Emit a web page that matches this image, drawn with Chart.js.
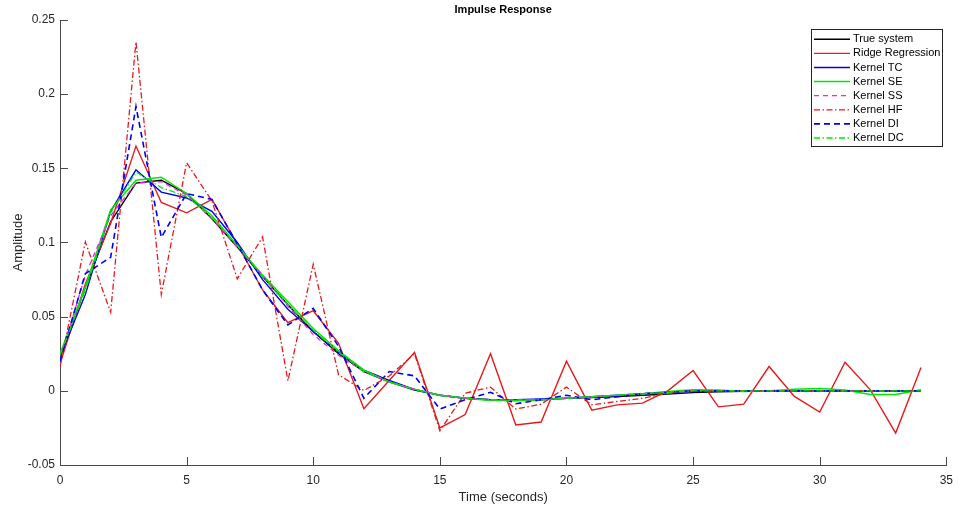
<!DOCTYPE html>
<html>
<head>
<meta charset="utf-8">
<script src="https://cdn.jsdelivr.net/npm/chart.js@4.4.0/dist/chart.umd.min.js"></script>
<style>
  html, body { margin: 0; padding: 0; background: #ffffff; }
  #wrap { width: 961px; height: 508px; }
</style>
</head>
<body>
<div id="wrap"><canvas id="c" width="961" height="508"></canvas></div>
<script>
const titleText = "Impulse Response";
const xLabel = "Time (seconds)";
const yLabel = "Amplitude";
const xTicks = [0, 5, 10, 15, 20, 25, 30, 35];
const yTicks = [-0.05, 0, 0.05, 0.1, 0.15, 0.2, 0.25];
const yTickLabels = ["-0.05", "0", "0.05", "0.1", "0.15", "0.2", "0.25"];

const times = [0,1,2,3,4,5,6,7,8,9,10,11,12,13,14,15,16,17,18,19,20,21,22,23,24,25,26,27,28,29,30,31,32,33,34];

const trueSystem = [0.022, 0.07, 0.114, 0.14, 0.142, 0.133, 0.116, 0.097, 0.077, 0.058, 0.04, 0.025, 0.013, 0.006, 0.0005, -0.003, -0.005, -0.006, -0.0065, -0.006, -0.005, -0.0045, -0.0038, -0.003, -0.0022, -0.0012, -0.0006, -0.0003, 0, 0, 0, 0, 0, 0, 0];
const ridgeRegression = [0.018, 0.072, 0.113, 0.165, 0.127, 0.12, 0.129, 0.099, 0.068, 0.046, 0.054, 0.032, -0.012, 0.007, 0.026, -0.025, -0.016, 0.025, -0.023, -0.021, 0.020, -0.013, -0.0095, -0.0083, 0.0, 0.0137, -0.0108, -0.009, 0.0164, -0.0038, -0.0143, 0.0193, 0.0007, -0.0285, 0.0157];
const kernelTC = [0.023, 0.065, 0.121, 0.149, 0.134, 0.130, 0.121, 0.100, 0.075, 0.055, 0.040, 0.026, 0.014, 0.007, 0.001, -0.003, -0.005, -0.006, -0.006, -0.0055, -0.005, -0.004, -0.003, -0.002, -0.001, -0.0005, 0, 0, 0, 0, 0, 0, 0, 0, 0];
const kernelSE = [0.025, 0.07, 0.122, 0.142, 0.144, 0.133, 0.118, 0.098, 0.078, 0.060, 0.042, 0.027, 0.014, 0.006, 0.001, -0.003, -0.005, -0.0065, -0.0065, -0.006, -0.005, -0.004, -0.003, -0.002, -0.0005, 0.0008, 0.0005, -0.0005, 0, 0.001, 0.0015, 0.0005, -0.0025, -0.0025, 0.0008];
const kernelSS = [0.021, 0.078, 0.118, 0.140, 0.141, 0.132, 0.116, 0.097, 0.078, 0.057, 0.038, 0.024, 0.013, 0.006, 0.001, -0.003, -0.005, -0.006, -0.006, -0.006, -0.005, -0.004, -0.003, -0.002, -0.001, 0, 0, 0, 0, 0, 0, 0, 0, 0, 0];
const kernelHF = [0.0163, 0.1004, 0.0529, 0.2354, 0.065, 0.1538, 0.128, 0.0755, 0.1038, 0.0067, 0.0854, 0.0108, 0.0002, 0.01, 0.025, -0.0269, -0.0016, 0.0025, -0.0123, -0.009, 0.0025, -0.0094, -0.0072, -0.005, -0.0015, 0, 0, 0, 0, 0, 0, 0, 0, 0, 0];
const kernelDI = [0.02, 0.079, 0.09, 0.1917, 0.1034, 0.133, 0.129, 0.099, 0.068, 0.0444, 0.0556, 0.03, -0.005, 0.013, 0.0101, -0.0123, -0.006, -0.001, -0.0087, -0.006, -0.003, -0.006, -0.004, -0.002, -0.001, 0, 0, 0, 0, 0, 0, 0, 0, 0, 0];
const kernelDC = [0.024, 0.068, 0.12, 0.1475, 0.137, 0.131, 0.117, 0.098, 0.077, 0.058, 0.041, 0.026, 0.013, 0.006, 0.001, -0.003, -0.005, -0.006, -0.0065, -0.006, -0.005, -0.004, -0.003, -0.002, -0.001, 0, 0, 0, 0, 0, 0, 0, 0, 0, 0];

const seriesNames = ["True system", "Ridge Regression", "Kernel TC", "Kernel SE", "Kernel SS", "Kernel HF", "Kernel DI", "Kernel DC"];
const seriesValues = [trueSystem, ridgeRegression, kernelTC, kernelSE, kernelSS, kernelHF, kernelDI, kernelDC];
const seriesColors = ["#000000", "#e8191c", "#0000f0", "#00e800", "#f020f0", "#e8191c", "#0000f0", "#00e800"];
const seriesDash = [[], [], [], [], [5, 4], [6, 2.5, 1.5, 2.5], [6, 4], [6, 2.5, 1.5, 2.5]];
const seriesWidth = [1.4, 1.4, 1.4, 1.5, 1.3, 1.3, 1.6, 1.3];

const FONT = "'Liberation Sans', Arial, Helvetica, sans-serif";
const AXIS_COLOR = "#4a4a4a";
const TEXT_COLOR = "#262626";

const datasets = seriesNames.map((name, i) => ({
  label: name,
  data: times.map((t, k) => ({ x: t, y: seriesValues[i][k] })),
  borderColor: seriesColors[i],
  backgroundColor: seriesColors[i],
  borderWidth: seriesWidth[i],
  borderDash: seriesDash[i],
  pointRadius: 0,
  fill: false,
  tension: 0,
  order: seriesNames.length - i
}));

const decorPlugin = {
  id: 'decor',
  afterDatasetsDraw(chart) {
    const ctx = chart.ctx;
    const xs = chart.scales.x, ys = chart.scales.y;
    const a = chart.chartArea;
    ctx.save();
    ctx.strokeStyle = AXIS_COLOR;
    ctx.lineWidth = 1;
    ctx.setLineDash([]);
    ctx.beginPath();
    xTicks.forEach(v => {
      const px = Math.round(xs.getPixelForValue(v)) + 0.5;
      ctx.moveTo(px, a.bottom);
      ctx.lineTo(px, a.bottom - 8);
    });
    yTicks.forEach(v => {
      const py = Math.round(ys.getPixelForValue(v)) + 0.5;
      ctx.moveTo(a.left, py);
      ctx.lineTo(a.left + 8, py);
    });
    ctx.stroke();

    ctx.fillStyle = "#000000";
    ctx.font = "bold 11px " + FONT;
    ctx.textAlign = "center";
    ctx.textBaseline = "middle";
    ctx.fillText(titleText, (a.left + a.right) / 2, 10);

    ctx.fillStyle = TEXT_COLOR;
    ctx.font = "13px " + FONT;
    ctx.fillText(xLabel, (a.left + a.right) / 2, 497);
    ctx.save();
    ctx.translate(18, (a.top + a.bottom) / 2);
    ctx.rotate(-Math.PI / 2);
    ctx.fillText(yLabel, 0, 0);
    ctx.restore();

    const bx = 811.5, by = 29.5, bw = 131, bh = 117;
    ctx.fillStyle = "#ffffff";
    ctx.fillRect(bx, by, bw, bh);
    ctx.strokeStyle = "#262626";
    ctx.lineWidth = 1;
    ctx.strokeRect(bx, by, bw, bh);
    ctx.font = "11px " + FONT;
    ctx.textAlign = "left";
    ctx.textBaseline = "middle";
    seriesNames.forEach((name, i) => {
      const y = 39.3 + i * 14.1;
      ctx.strokeStyle = seriesColors[i];
      ctx.lineWidth = seriesWidth[i];
      ctx.setLineDash(seriesDash[i]);
      ctx.beginPath();
      ctx.moveTo(814, y);
      ctx.lineTo(850, y);
      ctx.stroke();
      ctx.setLineDash([]);
      ctx.fillStyle = "#000000";
      ctx.fillText(name, 853, y);
    });
    ctx.restore();
  }
};

new Chart(document.getElementById('c'), {
  type: 'line',
  data: { datasets },
  options: {
    responsive: false,
    animation: false,
    devicePixelRatio: 1,
    layout: { padding: { top: 20, right: 9, left: 0, bottom: 0 } },
    plugins: {
      legend: { display: false },
      title: { display: false },
      tooltip: { enabled: false }
    },
    scales: {
      x: {
        type: 'linear',
        min: 0,
        max: 35,
        afterBuildTicks: (s) => { s.ticks = xTicks.map(v => ({ value: v })); },
        afterFit: (s) => { s.height = 43; },
        grid: { display: false, drawTicks: false },
        border: { display: true, color: AXIS_COLOR, width: 1 },
        ticks: {
          padding: 8,
          color: TEXT_COLOR,
          font: { size: 12, family: FONT },
          maxRotation: 0,
          autoSkip: false,
          callback: (v) => String(v)
        }
      },
      y: {
        type: 'linear',
        min: -0.05,
        max: 0.25,
        afterBuildTicks: (s) => { s.ticks = yTicks.map(v => ({ value: v })); },
        afterFit: (s) => { s.width = 60; },
        grid: { display: false, drawTicks: false },
        border: { display: true, color: AXIS_COLOR, width: 1 },
        ticks: {
          padding: 5,
          color: TEXT_COLOR,
          font: { size: 12, family: FONT },
          autoSkip: false,
          callback: (v) => {
            const idx = yTicks.findIndex(t => Math.abs(t - v) < 1e-9);
            return idx >= 0 ? yTickLabels[idx] : '';
          }
        }
      }
    }
  },
  plugins: [decorPlugin]
});
</script>
</body>
</html>
